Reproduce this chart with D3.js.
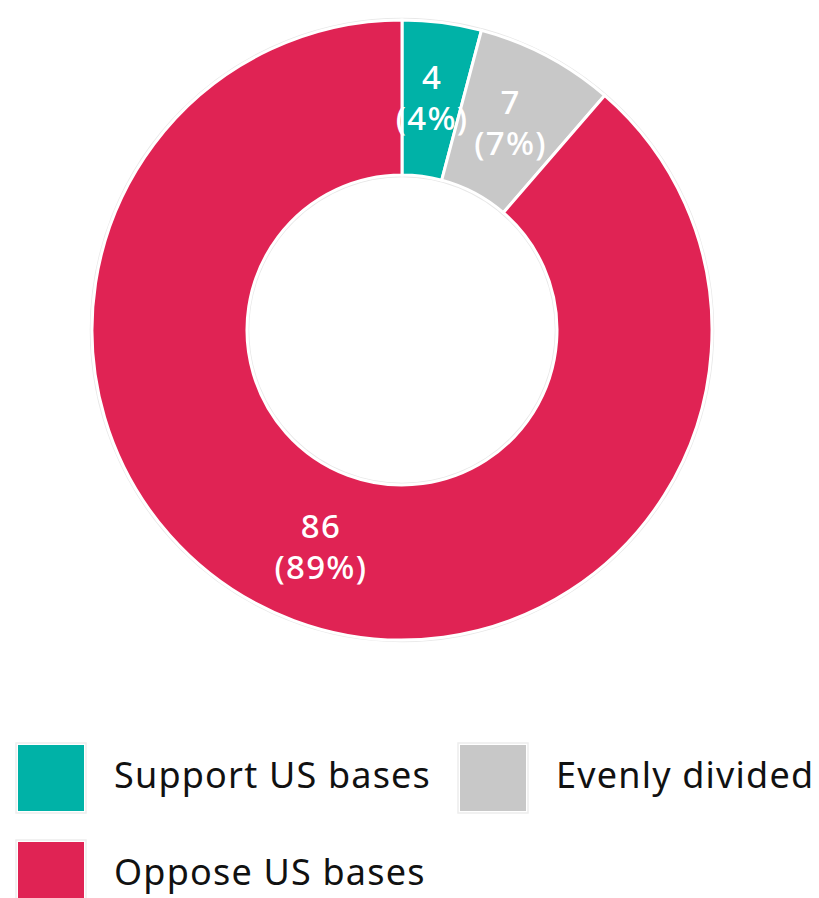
<!DOCTYPE html>
<html><head><meta charset="utf-8">
<script src="https://cdn.jsdelivr.net/npm/d3@7"></script>
<style>body{margin:0;background:#fff;}svg{display:block;}</style>
</head><body>
<svg id="c" width="819" height="898"></svg>
<script>
const categories = ["Support US bases", "Evenly divided", "Oppose US bases"];
const values = [4, 7, 86];
const colors = ["#00b2a7", "#c8c8c8", "#e02354"];

const svg = d3.select("#c");
const cx = 402, cy = 330, outerR = 310, innerR = 155;
const total = d3.sum(values);
const data = categories.map((c, i) => ({cat: c, value: values[i], color: colors[i]}));

const pie = d3.pie().value(d => d.value).sort(null);
const arc = d3.arc().innerRadius(innerR).outerRadius(outerR);
const g = svg.append("g").attr("transform", `translate(${cx},${cy})`);

g.append("circle").attr("r", outerR + 1.5).attr("fill", "none").attr("stroke", "#e8e8e8").attr("stroke-width", 1.5);
g.append("circle").attr("r", innerR - 1.5).attr("fill", "none").attr("stroke", "#e8e8e8").attr("stroke-width", 1.5);

const arcs = pie(data);
g.selectAll("path.s").data(arcs).join("path").attr("class", "s")
  .attr("d", arc).attr("fill", d => d.data.color)
  .attr("stroke", "#fff").attr("stroke-width", 3);

const fontFam = "'Noto Sans', 'Open Sans', sans-serif";
const lab = g.selectAll("text.l").data(arcs).join("text").attr("class", "l")
  .attr("transform", d => `translate(${arc.centroid(d)})`)
  .attr("text-anchor", "middle").attr("fill", "#fff")
  .style("font-family", fontFam).style("font-size", "33px").style("font-weight", 500)
  .style("letter-spacing", "1.3px");
lab.append("tspan").attr("x", 0).attr("y", -10).text(d => d.data.value);
lab.append("tspan").attr("x", 0).attr("y", 31).text(d => `(${Math.round(d.data.value / total * 100)}%)`);

// legend
const legendPos = [[18, 745], [460, 745], [18, 842]];
const lg = svg.selectAll("g.lg").data(data).join("g").attr("class", "lg")
  .attr("transform", (d, i) => `translate(${legendPos[i][0]},${legendPos[i][1]})`);
lg.append("rect").attr("x", -2).attr("y", -2).attr("width", 70).attr("height", 70)
  .attr("fill", "none").attr("stroke", "#ededed").attr("stroke-width", 1.5);
lg.append("rect").attr("width", 66).attr("height", 66).attr("fill", d => d.color);
lg.append("text").attr("x", 96).attr("y", 43)
  .style("font-family", fontFam).style("font-size", "36px").style("letter-spacing", "1.2px")
  .attr("fill", "#111")
  .text(d => d.cat);
</script>
</body></html>
